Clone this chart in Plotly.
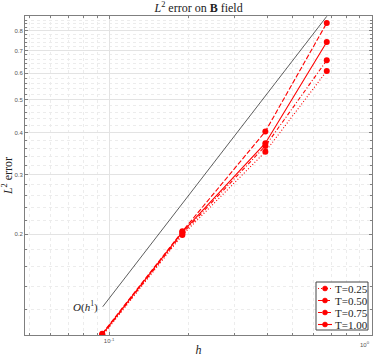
import numpy as np
import plotly.graph_objects as go

# Mesh sizes and L2 errors
h = [0.0942, 0.190, 0.393, 0.673]
errT025 = [0.1000, 0.1990, 0.351, 0.609]
errT050 = [0.1015, 0.2040, 0.403, 0.845]
errT075 = [0.1005, 0.2010, 0.365, 0.655]
errT100 = [0.1010, 0.2030, 0.372, 0.742]
labels = ['T=0.25', 'T=0.50', 'T=0.75', 'T=1.00']
dashes = ['1px,2px', '5px,2px', '4px,2px,1px,2px', 'solid']

# Reference slope O(h^1)
refH = [0.0946, 0.673]
refErr = [0.122, 0.884]

# Tick values
yTicks = [0.2, 0.3, 0.4, 0.5, 0.6, 0.7, 0.8]
yMinor = [0.12, 0.14, 0.16, 0.18, 0.22, 0.24, 0.26, 0.28, 0.32, 0.34, 0.36, 0.38,
	0.42, 0.44, 0.46, 0.48, 0.52, 0.54, 0.56, 0.58, 0.62, 0.64, 0.66, 0.68,
	0.72, 0.74, 0.76, 0.78, 0.82, 0.84, 0.86, 0.88]
xTicks = [0.1, 1]
xTickText = ['10<sup>-1</sup>', '10<sup>0</sup>']
xMinor = [0.05, 0.06, 0.07, 0.08, 0.09, 0.2, 0.3, 0.4, 0.5, 0.6, 0.7, 0.8, 0.9]

serif = 'Liberation Serif'
axisGray = '#7f7f7f'
W, H = 374, 359
M = dict(l=25, r=2, t=16, b=24)

# Pixel position -> paper coords (for the hand drawn legend)
def px(x):
	return (x - M['l']) / (W - M['l'] - M['r'])
def py(y):
	return (H - M['b'] - y) / (H - M['t'] - M['b'])

fig = go.Figure()
# Reference line
fig.add_trace(go.Scatter(x=refH, y=refErr, mode='lines', showlegend=False,
	line=dict(color='#333333', width=0.8)))
# Error curves
for name, err, dash in zip(labels, [errT025, errT050, errT075, errT100], dashes):
	fig.add_trace(go.Scatter(x=h, y=err, mode='lines+markers', name=name, showlegend=False,
		line=dict(color='#ff0000', width=1.1, dash=dash),
		marker=dict(color='#ff0000', size=6, symbol='circle')))

fig.add_annotation(x=np.log10(refH[0]), y=np.log10(refErr[0]), xref='x', yref='y',
	text='<i>O</i>(<i>h</i><sup>1</sup>)', showarrow=False, xanchor='right', yanchor='middle',
	xshift=-3, font=dict(family=serif, size=11, color='#222222'))

# Compact MATLAB style legend box
fig.add_shape(type='rect', xref='paper', yref='paper', x0=px(316), x1=px(368), y0=py(330), y1=py(282),
	line=dict(color='#444444', width=1), fillcolor='white', layer='above')
for i, (name, dash) in enumerate(zip(labels, dashes)):
	yc = 288.5 + 12 * i
	fig.add_shape(type='line', xref='paper', yref='paper', x0=px(318), x1=px(332), y0=py(yc), y1=py(yc),
		line=dict(color='#ff0000', width=1.1, dash=dash), layer='above')
	fig.add_shape(type='circle', xref='paper', yref='paper', x0=px(322.5), x1=px(327.5),
		y0=py(yc + 2.5), y1=py(yc - 2.5), line=dict(color='#ff0000', width=0.5), fillcolor='#ff0000', layer='above')
	fig.add_annotation(x=px(333), y=py(yc), xref='paper', yref='paper', text=name, showarrow=False,
		xanchor='left', yanchor='middle', font=dict(family=serif, size=11, color='#222222'))

# 10^0 label sits at the right edge, so write it by hand just inside the frame
fig.add_annotation(x=1, y=0, xref='paper', yref='paper', text='10<sup>0</sup>', showarrow=False,
	xanchor='right', yanchor='top', yshift=-3, font=dict(family='Liberation Sans', size=6, color='#555555'))

axisCommon = dict(type='log', showline=True, linecolor=axisGray, linewidth=1, mirror='ticks',
	ticks='inside', ticklen=3, tickcolor=axisGray, gridcolor='#e3e3e3', gridwidth=1,
	zeroline=False, automargin=False, tickfont=dict(family='Liberation Sans', size=6, color='#555555'))

fig.update_xaxes(**axisCommon, range=[np.log10(0.0479), 0], tickmode='array',
	tickvals=xTicks, ticktext=[xTickText[0], ''],
	minor=dict(tickmode='array', tickvals=xMinor, ticks='inside', ticklen=2, tickcolor=axisGray,
		showgrid=True, gridcolor='#ececec', griddash='dot', gridwidth=1),
	title=dict(text='<i>h</i>', font=dict(family=serif, size=12, color='#222222'), standoff=2))
fig.update_yaxes(**axisCommon, range=[np.log10(0.1006), np.log10(0.886)], tickmode='array',
	tickvals=yTicks, ticktext=[str(v) for v in yTicks],
	minor=dict(tickmode='array', tickvals=yMinor, ticks='inside', ticklen=2, tickcolor=axisGray,
		showgrid=True, gridcolor='#ececec', griddash='dot', gridwidth=1),
	title=dict(text='<i>L</i><sup>2</sup> error', font=dict(family=serif, size=12, color='#222222'), standoff=2))

fig.update_layout(width=W, height=H, margin=dict(**M, autoexpand=False),
	paper_bgcolor='white', plot_bgcolor='white', showlegend=False,
	title=dict(text='<i>L</i><sup>2</sup> error on <b>B</b> field', x=0.531, xanchor='center',
		y=0.978, yanchor='middle', font=dict(family=serif, size=12, color='#222222')))

# Drop the default body margin so the figure sits at the page corner
fig.write_html("out.html", config={'displayModeBar': False},
	post_script="document.body.style.margin='0';")
